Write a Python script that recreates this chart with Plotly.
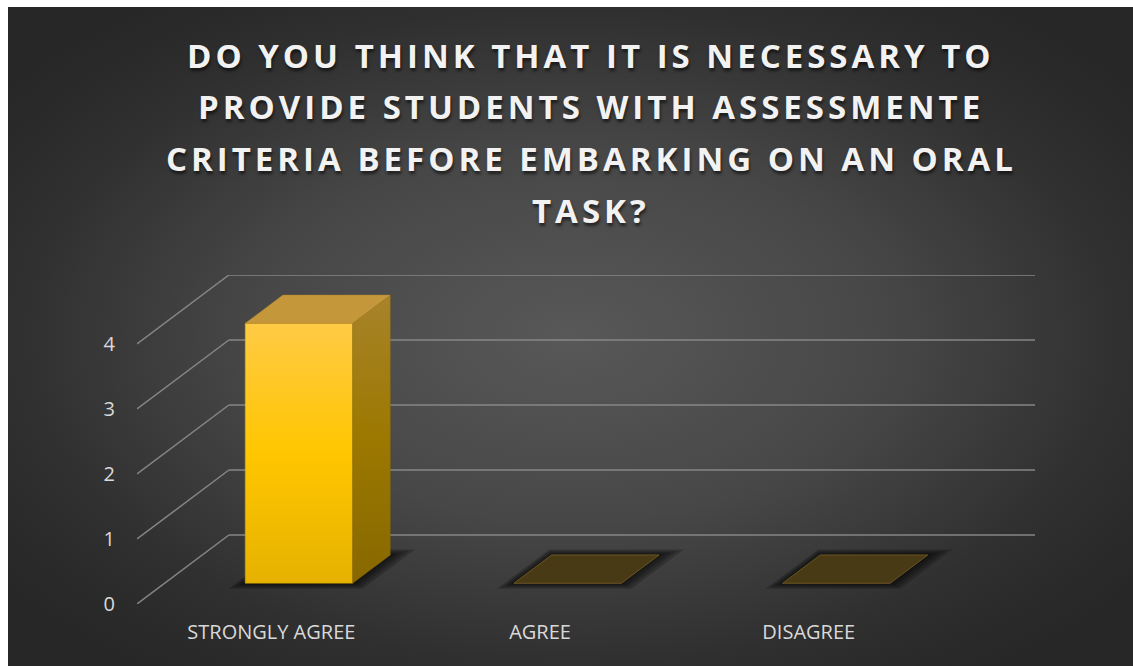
import plotly.graph_objects as go

# ---- data -------------------------------------------------------------
categories = ["STRONGLY AGREE", "AGREE", "DISAGREE"]
responses = [4, 0, 0]
value_ticks = [0, 1, 2, 3, 4]
title_lines = [
    "DO YOU THINK THAT IT IS NECESSARY TO",
    "PROVIDE STUDENTS WITH ASSESSMENTE",
    "CRITERIA BEFORE EMBARKING ON AN ORAL",
    "TASK?",
]

# ---- geometry of the pseudo-3D view ------------------------------------
W, H = 1133, 666
WALL_DX = 0.342          # depth shift along the category axis (back wall)
WALL_DY = 1.062          # depth shift along the value axis (back wall)
BAR_HALF = 0.2           # half bar width (gap width 150%)
BAR_D0, BAR_D1 = 0.30, 0.71   # bar front / back depth as fraction of wall depth
Y_MAX = max(value_ticks)
X_MIN, X_MAX = -0.5, len(categories) - 0.5


def proj(x, v, d):
    """Oblique projection of (category, value, depth) onto the 2D axes."""
    return x + d * WALL_DX, v + d * WALL_DY


def poly(pts):
    xs, ys = zip(*[proj(*p) for p in pts])
    return list(xs) + [xs[0]], list(ys) + [ys[0]]


fig = go.Figure()

# ---- chart area background (radial gradient) ---------------------------
cx, cy = (8 + W) / 2, (7 + H) / 2
hw, hh = (W - 8) / 2 * 1.25, (H - 7) / 2 * 1.25
fig.add_trace(go.Scatter(
    x=[cx - hw, cx + hw, cx + hw, cx - hw, cx - hw],
    y=[cy - hh, cy - hh, cy + hh, cy + hh, cy - hh],
    xaxis="x", yaxis="y", mode="none", fill="toself",
    fillgradient=dict(type="radial",
                      colorscale=[[0, "#585858"], [0.45, "#474747"],
                                  [0.8, "#2f2f2f"], [1, "#272727"]]),
    hoverinfo="skip", showlegend=False,
))

# ---- back wall gridlines and the diagonal depth lines -------------------
gx, gy = [], []
for v in value_ticks:
    for a, b in [((X_MIN, v, 0), (X_MIN, v, 1)), ((X_MIN, v, 1), (X_MAX, v, 1))]:
        x0, y0 = proj(*a)
        x1, y1 = proj(*b)
        gx += [x0, x1, None]
        gy += [y0, y1, None]
fig.add_trace(go.Scatter(
    x=gx, y=gy, xaxis="x2", yaxis="y2", mode="lines",
    line=dict(color="rgba(138,138,138,0.95)", width=1.5),
    hoverinfo="skip", showlegend=False,
))

# ---- bars ---------------------------------------------------------------
for i, (cat, val) in enumerate(zip(categories, responses)):
    l, r = i - BAR_HALF, i + BAR_HALF

    # soft floor shadow
    for k in range(4, 0, -1):
        e, ed = 0.009 * k, 0.02 * k
        sx, sy = poly([(l - e, 0, BAR_D0 - ed), (r + e * 1.8, 0, BAR_D0 - ed),
                       (r + e * 1.8, 0, BAR_D1 + ed), (l - e, 0, BAR_D1 + ed)])
        fig.add_trace(go.Scatter(
            x=sx, y=sy, xaxis="x2", yaxis="y2", mode="none", fill="toself",
            fillcolor="rgba(0,0,0,0.2)", hoverinfo="skip", showlegend=False,
        ))

    if val > 0:
        # front face
        fx, fy = poly([(l, 0, BAR_D0), (r, 0, BAR_D0), (r, val, BAR_D0), (l, val, BAR_D0)])
        fig.add_trace(go.Scatter(
            x=fx, y=fy, xaxis="x2", yaxis="y2", mode="lines", fill="toself",
            line=dict(color="rgba(200,150,0,0.6)", width=0.8),
            fillgradient=dict(type="vertical",
                              colorscale=[[0, "#e6b200"], [0.5, "#ffc600"], [1, "#ffca45"]]),
            name=cat, hovertemplate=f"{cat}: {val}<extra></extra>", showlegend=False,
        ))
        # right side face
        sx, sy = poly([(r, 0, BAR_D0), (r, 0, BAR_D1), (r, val, BAR_D1), (r, val, BAR_D0)])
        fig.add_trace(go.Scatter(
            x=sx, y=sy, xaxis="x2", yaxis="y2", mode="lines", fill="toself",
            line=dict(color="rgba(140,105,0,0.6)", width=0.5),
            fillgradient=dict(type="vertical",
                              colorscale=[[0, "#876800"], [0.5, "#9c7800"], [1, "#a8832a"]]),
            hoverinfo="skip", showlegend=False,
        ))
        # top face
        tx, ty = poly([(l, val, BAR_D0), (r, val, BAR_D0), (r, val, BAR_D1), (l, val, BAR_D1)])
        fig.add_trace(go.Scatter(
            x=tx, y=ty, xaxis="x2", yaxis="y2", mode="lines", fill="toself",
            line=dict(color="rgba(180,135,40,0.7)", width=0.5),
            fillcolor="#c4973a", hoverinfo="skip", showlegend=False,
        ))
    else:
        # a zero-height bar shows only its lid on the floor
        tx, ty = poly([(l, 0, BAR_D0), (r, 0, BAR_D0), (r, 0, BAR_D1), (l, 0, BAR_D1)])
        fig.add_trace(go.Scatter(
            x=tx, y=ty, xaxis="x2", yaxis="y2", mode="lines", fill="toself",
            line=dict(color="#6b5420", width=1), fillcolor="#493a16",
            name=cat, hovertemplate=f"{cat}: {val}<extra></extra>", showlegend=False,
        ))

# ---- title --------------------------------------------------------------
title_y = [55, 106.7, 158.3, 210]
annotations = [
    dict(text=t, x=591, y=yy, xref="x", yref="y", showarrow=False,
         xanchor="center", yanchor="middle",
         font=dict(family="Open Sans", size=33, color="#f2f2f2", weight=700,
                   shadow="1px 3px 3px rgba(0,0,0,0.55)"))
    for t, yy in zip(title_lines, title_y)
]

tick_font = dict(family="Open Sans", size=20, color="#d9d9d9")

fig.update_layout(
    width=W, height=H, autosize=False,
    margin=dict(l=0, r=0, t=0, b=0, pad=0, autoexpand=False),
    paper_bgcolor="#272727",
    plot_bgcolor="rgba(0,0,0,0)",
    showlegend=False,
    annotations=annotations,
    xaxis=dict(domain=[0, 1], range=[0, W], visible=False, fixedrange=True),
    yaxis=dict(domain=[0, 1], range=[H, 0], visible=False, fixedrange=True),
    xaxis2=dict(domain=[137 / W, 1035 / W], range=[X_MIN, X_MAX + WALL_DX],
                anchor="y2", showgrid=False, zeroline=False, showline=False,
                tickmode="array", tickvals=list(range(len(categories))),
                ticktext=categories, ticks="outside", ticklen=10,
                tickcolor="rgba(0,0,0,0)", tickfont=tick_font, fixedrange=True),
    yaxis2=dict(domain=[(H - 604) / H, (H - 275) / H], range=[0, Y_MAX + WALL_DY],
                anchor="x2", showgrid=False, zeroline=False, showline=False,
                tickmode="array", tickvals=value_ticks, ticks="outside", ticklen=17,
                tickcolor="rgba(0,0,0,0)", tickfont=tick_font, fixedrange=True),
    shapes=[
        dict(type="rect", xref="x", yref="y", x0=-2, x1=8, y0=-2, y1=H + 2,
             fillcolor="white", line=dict(width=0), layer="above"),
        dict(type="rect", xref="x", yref="y", x0=-2, x1=W + 2, y0=-2, y1=7,
             fillcolor="white", line=dict(width=0), layer="above"),
    ],
)

# page without body margin; widen the title letter spacing once drawn
post = ("document.body.style.margin='0';"
        "document.querySelectorAll('.annotation-text').forEach(function(t){"
        "t.style.letterSpacing='4px';});")
fig.write_html("out.html", post_script=post, config={"responsive": False})
